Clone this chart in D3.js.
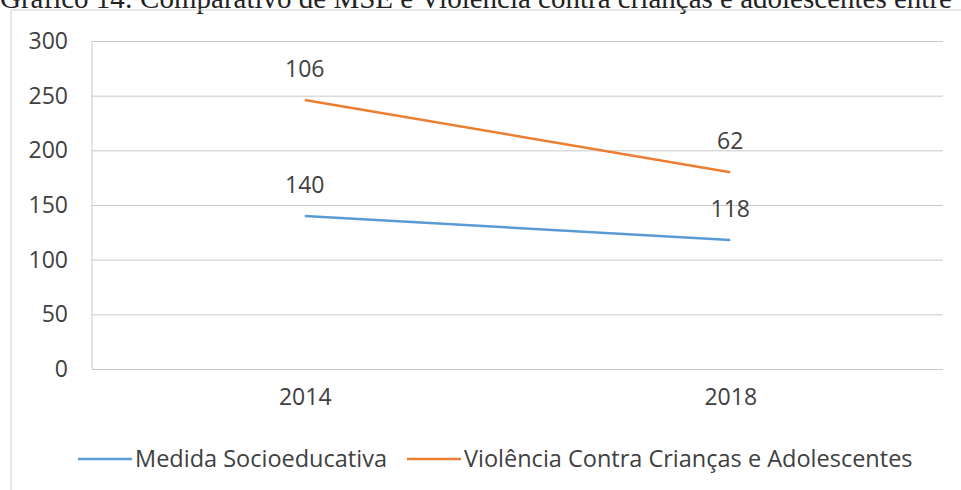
<!DOCTYPE html>
<html>
<head>
<meta charset="utf-8">
<script src="https://cdn.jsdelivr.net/npm/d3@7"></script>
<style>
  body { margin: 0; background: #fff; }
  svg { display: block; }
</style>
</head>
<body>
<script>
// data (stacked lines: labels are each series' own value)
var years = ["2014", "2018"];
var medida = [140, 118];
var violencia = [106, 62];
var seriesNames = ["Medida Socioeducativa", "Violência Contra Crianças e Adolescentes"];
var yTicks = [0, 50, 100, 150, 200, 250, 300];

var colors = ["#5b9bd5", "#ed7d31"];
var W = 961, H = 490;
var margin = {top: 41, right: 18, bottom: 121, left: 92},
    width = W - margin.left - margin.right,
    height = H - margin.top - margin.bottom;
var fs = "23px";

var svg = d3.select("body").append("svg")
    .attr("width", W)
    .attr("height", H)
    .style("font-family", "'Open Sans', Lato, sans-serif");

// caption, cut off by the top of the picture as in the original
svg.append("text")
    .attr("x", 0).attr("y", 8)
    .style("font-family", "'Liberation Serif', 'DejaVu Serif', serif")
    .style("font-size", "29px")
    .attr("fill", "#222")
    .text("Gráfico 14: Comparativo de MSE e Violência contra crianças e adolescentes entre");

// chart frame
svg.append("path")
    .attr("d", "M11," + H + "V10H" + W)
    .attr("fill", "none")
    .attr("stroke", "#d0d0d0");

var g = svg.append("g")
    .attr("transform", "translate(" + margin.left + "," + margin.top + ")");

var x = d3.scalePoint().domain(years).range([0, width]).padding(0.5);
var y = d3.scaleLinear().domain([0, 300]).range([height, 0]);

// gridlines + y labels
g.append("g")
    .call(d3.axisLeft(y).tickValues(yTicks).tickSize(-width).tickPadding(24))
    .call(function(a) {
      a.select(".domain").remove();
      a.selectAll(".tick line").attr("stroke", "#c8c8c8");
      a.selectAll(".tick text").attr("fill", "#404040").style("font-size", fs)
          .style("font-family", "'Open Sans', sans-serif");
    });

// left axis line
g.append("line")
    .attr("x1", 0).attr("x2", 0).attr("y1", 0).attr("y2", height)
    .attr("stroke", "#c8c8c8");

g.append("g")
    .attr("transform", "translate(0," + height + ")")
    .call(d3.axisBottom(x).tickSize(0).tickPadding(20))
    .call(function(a) {
      a.select(".domain").remove();
      a.selectAll(".tick text").attr("fill", "#404040").style("font-size", fs)
          .style("font-family", "'Open Sans', sans-serif");
    });

// stacked values
var stacked = [
  medida.map(function(v, i) { return {year: years[i], top: v, val: v}; }),
  violencia.map(function(v, i) { return {year: years[i], top: medida[i] + v, val: v}; })
];

var line = d3.line()
    .x(function(d) { return x(d.year); })
    .y(function(d) { return y(d.top); });

g.selectAll(".series")
    .data(stacked)
    .enter().append("path")
    .attr("class", "series")
    .attr("d", line)
    .attr("fill", "none")
    .attr("stroke", function(d, i) { return colors[i]; })
    .attr("stroke-width", 2.5);

stacked.forEach(function(s) {
  g.selectAll(null)
      .data(s)
      .enter().append("text")
      .attr("x", function(d) { return x(d.year); })
      .attr("y", function(d) { return y(d.top) - 23; })
      .attr("text-anchor", "middle")
      .attr("fill", "#404040")
      .style("font-size", fs)
      .text(function(d) { return d.val; });
});

// legend
var legX = [78, 407];
var leg = svg.selectAll(".leg")
    .data(seriesNames)
    .enter().append("g")
    .attr("transform", function(d, i) { return "translate(" + legX[i] + ",459)"; });
leg.append("line")
    .attr("x1", 0).attr("x2", 54)
    .attr("stroke", function(d, i) { return colors[i]; })
    .attr("stroke-width", 2.5);
leg.append("text")
    .attr("x", 57).attr("y", 8)
    .attr("fill", "#404040")
    .style("font-size", "23.5px")
    .text(function(d) { return d; });
</script>
</body>
</html>
